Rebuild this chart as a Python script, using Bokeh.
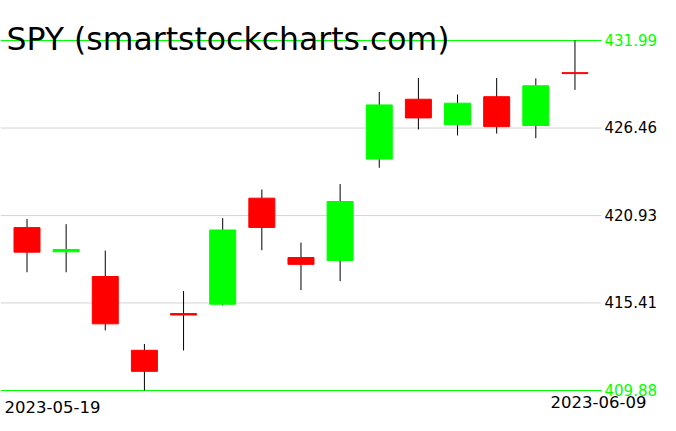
from bokeh.plotting import figure
from bokeh.models import Range1d, Label, ColumnDataSource
from bokeh.core.properties import value
from bokeh.embed import file_html
from bokeh.resources import INLINE

# ---- data ----
dates = ["2023-05-19", "2023-05-22", "2023-05-23", "2023-05-24", "2023-05-25",
         "2023-05-26", "2023-05-30", "2023-05-31", "2023-06-01", "2023-06-02",
         "2023-06-05", "2023-06-06", "2023-06-07", "2023-06-08", "2023-06-09"]
opens = [420.17, 418.64, 417.08, 412.42, 414.74, 415.33, 422.03, 418.28, 418.09,
         424.50, 428.28, 426.67, 428.44, 426.62, 429.96]
highs = [420.72, 420.39, 418.72, 412.82, 416.16, 420.77, 422.58, 419.22, 422.92,
         428.74, 429.62, 428.58, 429.62, 429.60, 431.99]
lows = [417.35, 417.35, 413.68, 409.88, 412.41, 415.25, 418.74, 416.22, 416.79,
        423.95, 426.37, 425.99, 426.11, 425.82, 428.87]
closes = [418.62, 418.79, 414.09, 411.09, 414.65, 420.02, 420.18, 417.85, 421.82,
          427.92, 427.10, 428.03, 426.55, 429.13, 429.90]
price_ticks = [409.88, 415.41, 420.93, 426.46, 431.99]
tick_labels = ["409.88", "415.41", "420.93", "426.46", "431.99"]
title_text = "SPY (smartstockcharts.com)"

W, H = 676, 431
GREEN = "#00FF00"
RED = "#FF0000"
FONT = "DejaVu Sans"

# layout geometry (pixels)
x0_px, step_px = 26.5, 39.14          # first candle centre, spacing
top_px, bot_px = 40.0, 390.0          # top / bottom price line
lo, hi = min(price_ticks), max(price_ticks)
ppu = (bot_px - top_px) / (hi - lo)

x_start = -x0_px / step_px
x_end = x_start + W / step_px
y_end = hi + top_px / ppu
y_start = y_end - H / ppu


def px_x(px):
    return x_start + px / step_px


def px_y(py):
    return y_end - py / ppu


p = figure(width=W, height=H, output_backend="svg", toolbar_location=None,
           x_range=Range1d(x_start, x_end), y_range=Range1d(y_start, y_end),
           min_border=0, x_axis_location=None, y_axis_location=None)
p.margin = (0, 0, 0, 0)
p.grid.visible = False
p.outline_line_color = None
p.background_fill_color = "white"
p.border_fill_color = "white"

# horizontal price lines
line_end = px_x(601)
mid = [t for t in price_ticks if t not in (lo, hi)]
p.segment(x0=[x_start] * len(mid), x1=[line_end] * len(mid), y0=mid, y1=mid,
          line_color="#D3D3D3", line_width=1)
p.segment(x0=[x_start] * 2, x1=[line_end] * 2, y0=[lo, hi], y1=[lo, hi],
          line_color=GREEN, line_width=1)

# candles
idx = list(range(len(dates)))
colors = [GREEN if c >= o else RED for o, c in zip(opens, closes)]
src = ColumnDataSource(dict(
    x=idx, open=opens, close=closes, high=highs, low=lows,
    top=[max(o, c) for o, c in zip(opens, closes)],
    bottom=[min(o, c) for o, c in zip(opens, closes)],
    color=colors))
p.segment(x0="x", x1="x", y0="low", y1="high", source=src,
          line_color="black", line_width=1)
p.vbar(x="x", width=26 / step_px, top="top", bottom="bottom", source=src,
       fill_color="color", line_color="color", line_width=1)

# price labels on the right
lab_colors = [GREEN if t in (lo, hi) else "black" for t in price_ticks]
p.text(x=[px_x(604)] * len(price_ticks), y=price_ticks, text=tick_labels,
       text_color=lab_colors, text_font=value(FONT), text_font_size="15px",
       text_baseline="alphabetic", text_align="left", y_offset=-1)

# date labels
p.text(x=[px_x(4)], y=[px_y(406)], text=[dates[0]],
       text_color="black", text_font=value(FONT), text_font_size="16.5px",
       text_baseline="alphabetic", text_align="left")
p.text(x=[px_x(646)], y=[px_y(401)], text=[dates[-1]],
       text_color="black", text_font=value(FONT), text_font_size="16.5px",
       text_baseline="alphabetic", text_align="right")

# title
p.add_layout(Label(x=6, y=H - 38, x_units="screen", y_units="screen",
                   text=title_text, text_font=FONT, text_font_size="31.5px",
                   text_color="black", text_baseline="alphabetic"))

open("out.html", "w").write(file_html(p, INLINE))
